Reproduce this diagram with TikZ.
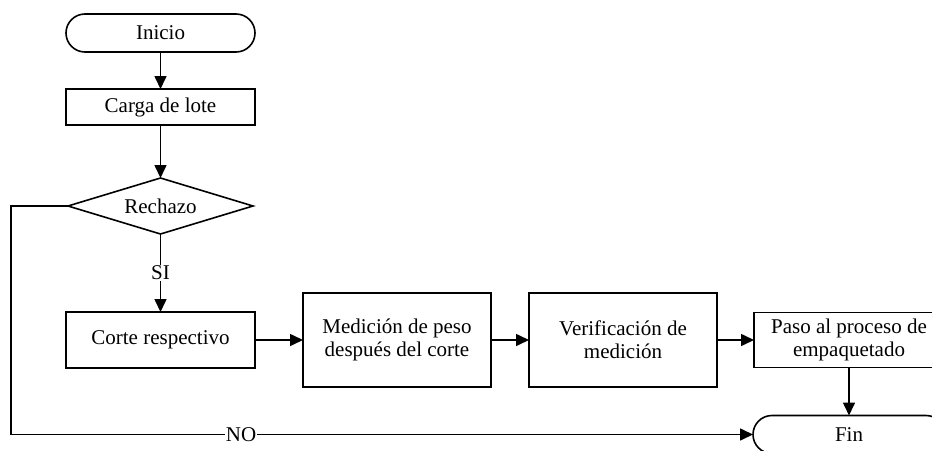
\documentclass[tikz,border=0pt]{standalone}
\usepackage{fontspec}
\setmainfont{Liberation Serif}
\usetikzlibrary{shapes.geometric,arrows.meta,positioning}

\begin{document}
\begin{tikzpicture}[
  x=1pt,y=1pt,font=\fontsize{21}{23}\selectfont,line width=1.6pt,
  >={Triangle[length=13pt,width=12pt]},
  box/.style={draw,rectangle,align=center,inner sep=2pt,outer sep=0pt,minimum width=189pt},
  term/.style={box,rounded corners=19pt,minimum height=38pt},
  proc/.style={box,minimum height=36pt},
  tall/.style={box,minimum width=188pt,minimum height=94pt},
  dec/.style={draw,diamond,aspect=3.3,inner sep=0pt,outer sep=0pt,minimum width=185pt,minimum height=56pt},
  lbl/.style={fill=white,inner sep=1pt}]
\useasboundingbox (0,0) rectangle (932,-450);
\clip (0,0) rectangle (932,-450);
\node[term] (ini) at (160.5,-33) {Inicio};
\node[proc,below=37pt of ini] (carga) {Carga de lote};
\node[dec,below=53pt of carga] (rech) {Rechazo};
\node[box,minimum height=56pt,below=78pt of rech] (corte) {Corte respectivo};
\node[tall,right=48pt of corte] (med) {Medición de peso\\después del corte};
\node[tall,right=38pt of med] (ver) {Verificación de\\medición};
\node[box,minimum width=190pt,minimum height=55pt,right=37pt of ver] (paso) {Paso al proceso de\\empaquetado};
\node[term,minimum width=192pt,below=48pt of paso] (fin) {Fin};
\draw[->](ini)--(carga); \draw[->](carga)--(rech);
\draw[->](rech)--(corte) node[midway,lbl]{SI};
\draw[->](corte)--(med); \draw[->](med)--(ver); \draw[->](ver)--(paso); \draw[->](paso)--(fin);
\draw[->] (rech.west) -- ++(-57,0) |- (fin.west) node[pos=0.655,lbl]{NO};
\end{tikzpicture}
\end{document}
